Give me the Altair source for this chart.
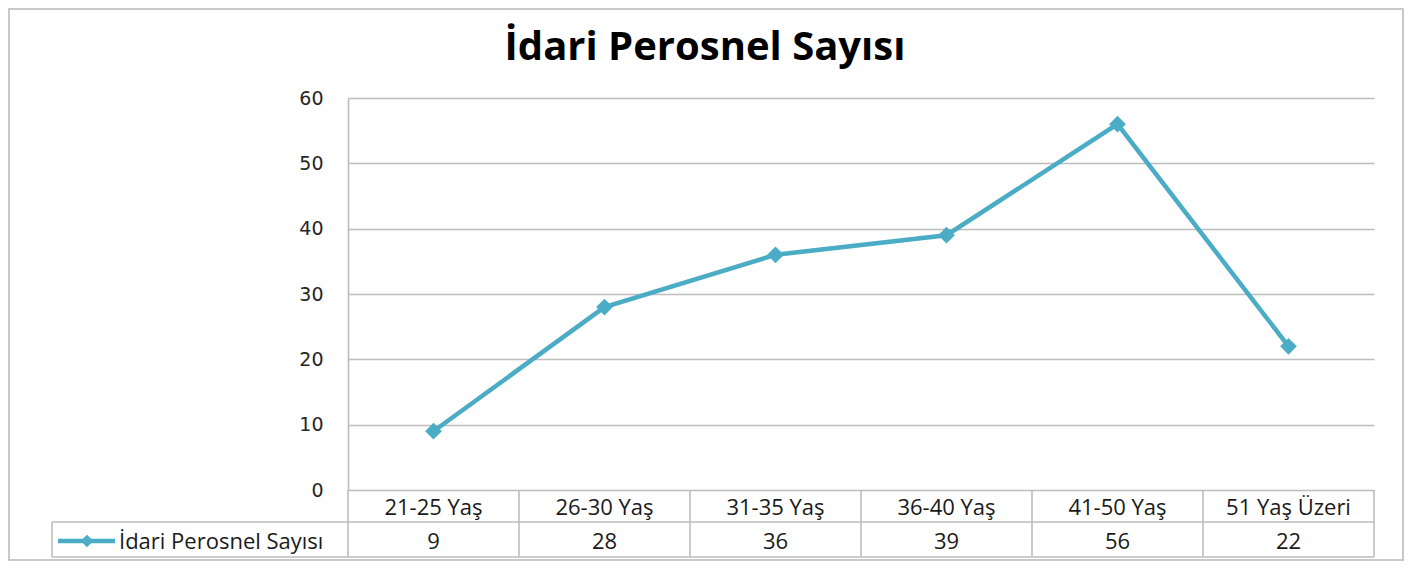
import altair as alt
import pandas as pd

categories = ["21-25 Yaş", "26-30 Yaş", "31-35 Yaş", "36-40 Yaş", "41-50 Yaş", "51 Yaş Üzeri"]
values = [9, 28, 36, 39, 56, 22]
series_name = "İdari Perosnel Sayısı"
title_text = "İdari Perosnel Sayısı"
y_ticks = [0, 10, 20, 30, 40, 50, 60]

LINE_C = "#4BACC6"
GRID_C = "#BDBDBD"
TXT_C = "#1A1A1A"
FONT = "Open Sans"
W, H = 1026, 392
N = len(categories)

df = pd.DataFrame({"cat": categories, "val": values,
                   "pos": [i + 0.5 for i in range(N)]})
bounds = pd.DataFrame({"b": list(range(N + 1))})
one = pd.DataFrame({"k": [0]})

xs = alt.Scale(domain=[0, N], nice=False, zero=False)
ys = alt.Scale(domain=[0, 60], nice=False)
yax = alt.Axis(values=y_ticks, grid=True, ticks=False, domain=True,
               domainColor=GRID_C, domainWidth=1.6, gridColor=GRID_C, gridWidth=1.6,
               labelFont="DejaVu Sans", labelFontSize=19, labelColor="#262626",
               labelPadding=25, title=None)

def X(f):
    return alt.X(f, scale=xs, axis=None)

base = alt.Chart(df)

line = base.mark_line(color=LINE_C, strokeWidth=4.5).encode(
    x=X("pos:Q"), y=alt.Y("val:Q", scale=ys, axis=yax))
pts = base.mark_point(shape="diamond", filled=True, size=280, opacity=1,
                      color=LINE_C).encode(
    x=X("pos:Q"), y=alt.Y("val:Q", scale=ys, axis=yax))

# data table
vlines = alt.Chart(bounds).mark_rule(color=GRID_C, strokeWidth=1.6).encode(
    x=X("b:Q"), y=alt.value(H), y2=alt.value(H + 67))
h1 = alt.Chart(one).mark_rule(color=GRID_C, strokeWidth=1.6).encode(
    x=alt.value(-296), x2=alt.value(W), y=alt.value(H + 32))
h2 = alt.Chart(one).mark_rule(color=GRID_C, strokeWidth=1.6).encode(
    x=alt.value(-296), x2=alt.value(W), y=alt.value(H + 67))
lv = alt.Chart(one).mark_rule(color=GRID_C, strokeWidth=1.6).encode(
    x=alt.value(-296), y=alt.value(H + 32), y2=alt.value(H + 67))

hdr = base.mark_text(font=FONT, fontSize=22, color=TXT_C, baseline="middle").encode(
    x=X("pos:Q"), y=alt.value(H + 18), text="cat:N")
vals = base.mark_text(font=FONT, fontSize=22, color=TXT_C, baseline="middle").encode(
    x=X("pos:Q"), y=alt.value(H + 52), text="val:Q")

leg_line = alt.Chart(one).mark_rule(color=LINE_C, strokeWidth=4.5).encode(
    x=alt.value(-290), x2=alt.value(-233), y=alt.value(H + 51))
leg_pt = alt.Chart(one).mark_point(shape="diamond", filled=True, size=160, opacity=1,
                                   color=LINE_C).encode(
    x=alt.value(-261), y=alt.value(H + 51))
leg_txt = alt.Chart(pd.DataFrame({"t": [series_name]})).mark_text(
    font=FONT, fontSize=22, color=TXT_C, align="left", baseline="middle").encode(
    x=alt.value(-229), y=alt.value(H + 52), text="t:N")

title = alt.Chart(pd.DataFrame({"t": [title_text]})).mark_text(
    font=FONT, fontSize=40, fontWeight="bold", color="#000000",
    align="center", baseline="alphabetic").encode(
    x=alt.value(357), y=alt.value(-38), text="t:N")

frame = alt.Chart(one).mark_rect(fillOpacity=0, stroke="#C8C8C8", strokeWidth=2).encode(
    x=alt.value(-339), x2=alt.value(1055), y=alt.value(-89), y2=alt.value(462))

chart = alt.layer(frame, vlines, h1, h2, lv, line, pts, hdr, vals,
                  leg_line, leg_pt, leg_txt, title).properties(
    width=W, height=H,
    autosize=alt.AutoSizeParams(type="none"),
    padding={"left": 340, "top": 90, "right": 30, "bottom": 72},
).configure_view(stroke=None)

chart.save("out.html", embed_options={"renderer": "svg", "actions": False})
